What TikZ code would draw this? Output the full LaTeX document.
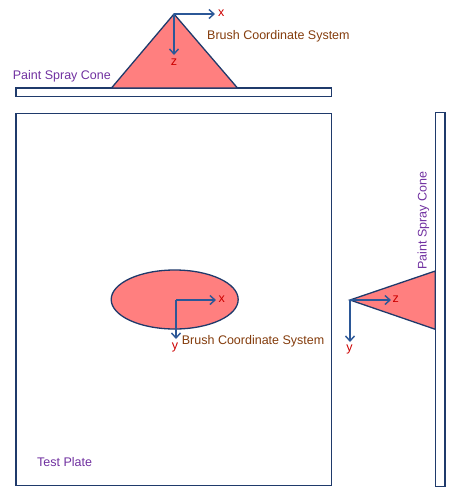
\documentclass[tikz,border=0pt]{standalone}
\usepackage{fontspec}
\setmainfont{Liberation Sans}
\usetikzlibrary{arrows.meta}
\definecolor{navy}{HTML}{1F3A6B}
\definecolor{axisblue}{HTML}{2B5797}
\definecolor{spray}{HTML}{FF7F7F}
\definecolor{axred}{HTML}{CC0000}
\definecolor{brown}{HTML}{843C0C}
\definecolor{purp}{HTML}{7030A0}
\tikzset{
  plate/.style={draw=navy, line width=1.4pt, fill=white},
  cone/.style={draw=navy, line width=1.3pt, fill=spray},
  axis/.style={draw=axisblue, line width=1.4pt, -{Straight Barb[length=5pt,width=9pt,line width=1.4pt]}},
  axlabel/.style={text=axred, font=\fontsize{12.5}{14}\selectfont, inner sep=0pt},
  brushlabel/.style={text=brown, font=\fontsize{12.5}{14}\selectfont, inner sep=0pt},
  conelabel/.style={text=purp, font=\fontsize{12.5}{14}\selectfont, inner sep=0pt},
}
\begin{document}
\begin{tikzpicture}[x=1pt,y=-1pt]
\useasboundingbox (0,0) rectangle (449,499);
% top view
\draw[plate] (16,88) rectangle (331.5,96.5);
\draw[cone] (174,14) -- (237.5,88) -- (111.5,88) -- cycle;
\coordinate (o1) at (174,14);
\coordinate (x1) at (215,14);
\coordinate (z1) at (174,55);
\draw[axis] (o1) -- (x1);
\draw[axis] (o1) -- (z1);
\node[axlabel, anchor=west] (lx1) at (218,13.5) {x};
\node[axlabel] (lz1) at (174,62) {z};
\node[brushlabel, anchor=base west] (b1) at (207,39) {Brush Coordinate System};
\node[conelabel, anchor=base west] (c1) at (12.7,79) {Paint Spray Cone};
% front view
\draw[plate] (16,113.3) rectangle (331.5,485.7);
\draw[cone] (174.7,299.5) ellipse [x radius=63.5, y radius=29.5];
\coordinate (o2) at (176,300);
\coordinate (x2) at (216,300);
\coordinate (y2) at (176,339);
\draw[axis] (o2) -- (x2);
\draw[axis] (o2) -- (y2);
\node[axlabel, anchor=west] (lx2) at (218.5,299) {x};
\node[axlabel] (ly2) at (175,347.5) {y};
\node[brushlabel, anchor=base west] (b2) at (181.7,344) {Brush Coordinate System};
\node[conelabel, anchor=base west] (tp) at (37,466.5) {Test Plate};
% side view
\draw[plate] (435.3,112.7) rectangle (445,486.7);
\draw[cone] (350,300) -- (435.3,271) -- (435.3,329.3) -- cycle;
\coordinate (o3) at (350,300);
\coordinate (z3) at (391,300);
\coordinate (y3) at (350,342);
\draw[axis] (o3) -- (z3);
\draw[axis] (o3) -- (y3);
\node[axlabel, anchor=west] (lz3) at (392.5,299.5) {z};
\node[axlabel] (ly3) at (349.5,349) {y};
\node[conelabel, anchor=base west, rotate=90] (c3) at (426.5,270) {Paint Spray Cone};
\end{tikzpicture}
\end{document}
